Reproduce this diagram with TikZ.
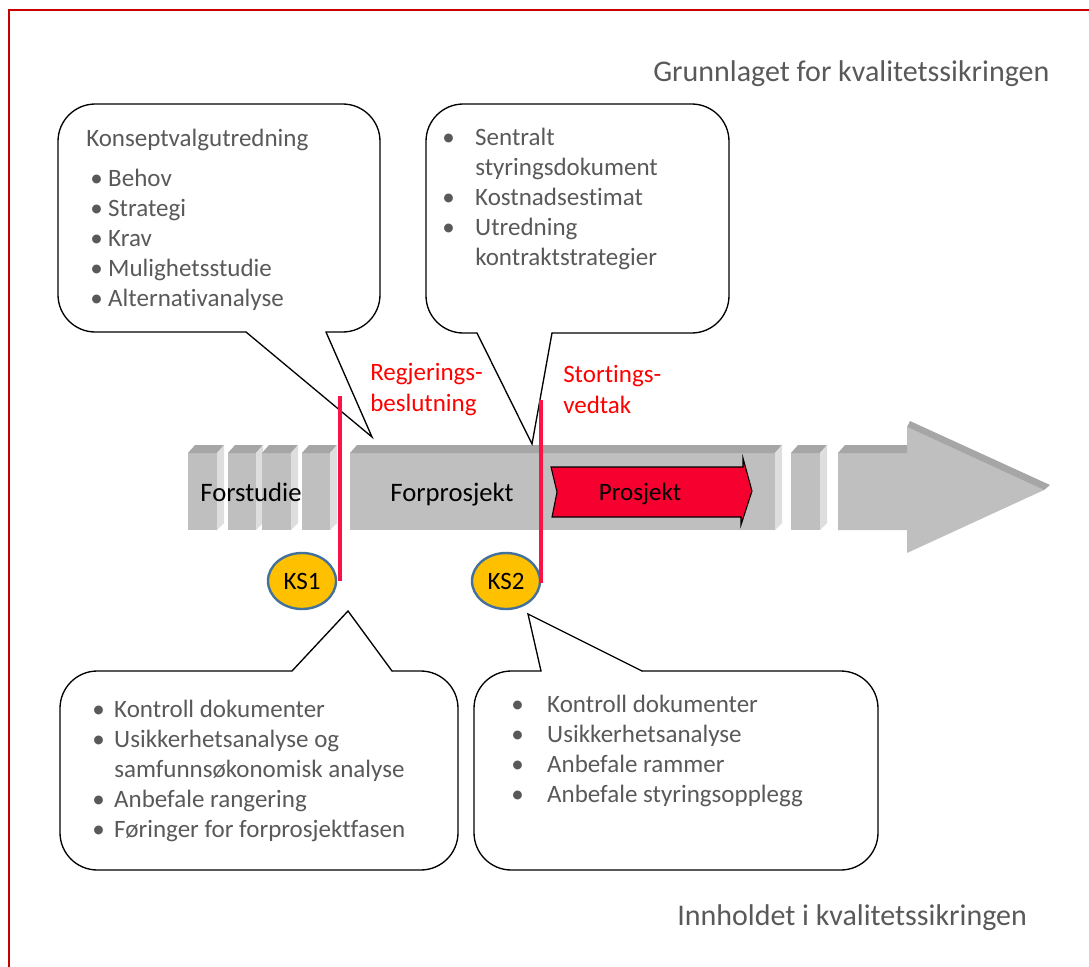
\documentclass[tikz,border=0pt]{standalone}
\usepackage{fontspec}
\setmainfont{Carlito}[Ligatures=NoCommon]
\usetikzlibrary{shapes.geometric}
\definecolor{txtgray}{RGB}{89,89,89}
\definecolor{gateline}{RGB}{250,20,70}
\definecolor{projred}{RGB}{245,0,47}
\definecolor{ksgold}{RGB}{255,192,0}
\definecolor{ksblue}{RGB}{65,113,156}
\definecolor{framered}{RGB}{200,0,0}
\definecolor{blockfront}{RGB}{191,191,191}
\definecolor{blocktop}{RGB}{166,166,166}
\definecolor{blockside}{RGB}{222,222,222}

% one 3D phase block, from x=#1 to x=#2
\newcommand{\phaseblock}[2]{%
  \fill[blockfront] (#1,453) rectangle ({#2-7},530);
  \fill[blocktop] (#1,453) -- ({#1+7},445) -- (#2,445) -- ({#2-7},453) -- cycle;
  \fill[blockside] ({#2-7},453) -- (#2,445) -- (#2,523) -- ({#2-7},530) -- cycle;}
% bullet item: box width, bullet indent, text
\newcommand{\bitem}[3]{\makebox[#1][l]{\hspace*{#2}\textbullet}#3}

\begin{document}
\begin{tikzpicture}[x=0.75pt,y=-0.75pt,
    callout/.style={draw=black,line width=1pt,line cap=round},
    bodytext/.style={anchor=north west,inner sep=0pt,align=left,text=txtgray,font=\fontsize{18.75}{22.5}\selectfont},
    gatetext/.style={anchor=north west,inner sep=0pt,align=left,text=red,font=\fontsize{18.75}{23.25}\selectfont},
    headtext/.style={anchor=base west,inner sep=0pt,text=txtgray,font=\fontsize{22.5}{27}\selectfont},
    phasetext/.style={anchor=base,inner sep=0pt,font=\fontsize{20}{24}\selectfont},
    ks/.style={ellipse,draw=ksblue,line width=1.8pt,fill=ksgold,minimum width=51pt,minimum height=42pt,inner sep=0pt,font=\fontsize{18.75}{22.5}\selectfont},
    gate/.style={draw=gateline,line width=2.4pt}]

    \useasboundingbox (0,0) rectangle (1089,967);
    \draw[framered,line width=1.6pt] (1089,10) -- (9,10) -- (9,967);

    % Headings
    \node[headtext] (grunnlag) at (653,81) {Grunnlaget for kvalitetssikringen};
    \node[headtext] (innhold) at (677,925) {Innholdet i kvalitetssikringen};

    % Timeline
    \phaseblock{188}{224}
    \phaseblock{228}{263}
    \phaseblock{262}{298}
    \phaseblock{302}{337}
    \phaseblock{350}{782}
    \phaseblock{791}{827}
    \fill[blockfront] (838,453) -- (907,453) -- (907,427) -- (1044,490) -- (907,553) -- (907,530) -- (838,530) -- cycle;
    \fill[blocktop] (838,453) -- (845,445) -- (907,445) -- (907,453) -- cycle;
    \fill[blocktop] (907,427) -- (910,421) -- (1050,485) -- (1044,490) -- cycle;
    \draw[fill=projred,line width=0.8pt] (551,467) -- (743,467) -- (743,458) -- (752,491) -- (741,525) -- (741,517) -- (552,517) -- (557,492) -- cycle;

    \node[phasetext] (forstudie) at (251,501) {Forstudie};
    \node[phasetext] (forprosjekt) at (452,501) {Forprosjekt};
    \node[phasetext,font=\fontsize{18.75}{22.5}\selectfont] (prosjekt) at (640,500) {Prosjekt};

    % Callouts above
    \draw[callout,rounded corners=28pt] (326,332) -- (380,332) -- (380,104) -- (58,104) -- (58,332) -- (246,332);
    \draw[callout] (246,332) -- (372,437) -- (326,332);
    \draw[callout,rounded corners=28pt] (552,333) -- (729,333) -- (729,104) -- (426,104) -- (426,333) -- (477,333);
    \draw[callout] (477,333) -- (532,444) -- (552,333);

    \node[bodytext] (kvutext) at (86,125) {\strut Konseptvalgutredning\\[7.5pt]
        \bitem{16.5pt}{3pt}{Behov}\\
        \bitem{16.5pt}{3pt}{Strategi}\\
        \bitem{16.5pt}{3pt}{Krav}\\
        \bitem{16.5pt}{3pt}{Mulighetsstudie}\\
        \bitem{16.5pt}{3pt}{Alternativanalyse}};
    \node[bodytext] (sdtext) at (442,124) {\strut\bitem{24.75pt}{0pt}{Sentralt}\\
        \hspace*{24.75pt}styringsdokument\\
        \bitem{24.75pt}{0pt}{Kostnadsestimat}\\
        \bitem{24.75pt}{0pt}{Utredning}\\
        \hspace*{24.75pt}kontraktstrategier};

    % Callouts below
    \draw[callout,rounded corners=28pt] (392,671) -- (458,671) -- (458,870) -- (60,870) -- (60,671) -- (292,671);
    \draw[callout] (292,671) -- (348,611) -- (392,671);
    \draw[callout,rounded corners=28pt] (642,671) -- (878,671) -- (878,870) -- (474,870) -- (474,671) -- (541,671);
    \draw[callout] (541,671) -- (528,614) -- (642,671);

    \node[bodytext] (ks1text) at (92,696) {\strut\bitem{16.5pt}{0pt}{Kontroll dokumenter}\\
        \bitem{16.5pt}{0pt}{Usikkerhetsanalyse og}\\
        \hspace*{16.5pt}samfunnsøkonomisk analyse\\
        \bitem{16.5pt}{0pt}{Anbefale rangering}\\
        \bitem{16.5pt}{0pt}{Føringer for forprosjektfasen}};
    \node[bodytext] (ks2text) at (511,691) {\strut\bitem{27pt}{0pt}{Kontroll dokumenter}\\
        \bitem{27pt}{0pt}{Usikkerhetsanalyse}\\
        \bitem{27pt}{0pt}{Anbefale rammer}\\
        \bitem{27pt}{0pt}{Anbefale styringsopplegg}};

    % Decision gates
    \node[ks] (ks1) at (302,581) {KS1};
    \node[ks] (ks2) at (506,581) {KS2};
    \coordinate (gate1top) at (340,396);
    \coordinate (gate1bot) at (340,581);
    \coordinate (gate2top) at (541,400);
    \coordinate (gate2bot) at (541,583);
    \draw[gate] (gate1top) -- (gate1bot);
    \draw[gate] (gate2top) -- (gate2bot);

    \node[gatetext] (regjering) at (370,359) {\strut Regjerings-\\beslutning};
    \node[gatetext] (storting) at (563,361) {\strut Stortings-\\vedtak};
\end{tikzpicture}
\end{document}
